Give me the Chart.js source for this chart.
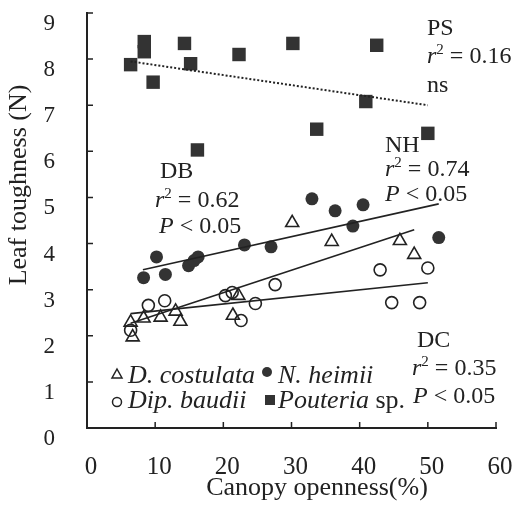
<!DOCTYPE html>
<html>
<head>
<meta charset="utf-8">
<script src="https://cdn.jsdelivr.net/npm/chart.js"></script>
<style>
    html, body { margin: 0; padding: 0; background: #fff; }
    #wrap { width: 515px; height: 505px; }
</style>
</head>
<body>
<div id="wrap"><canvas id="chart" width="515" height="505"></canvas></div>
<script>
// ---- data ----
const xTicks = [0, 10, 20, 30, 40, 50, 60];
const yTicks = [0, 1, 2, 3, 4, 5, 6, 7, 8, 9];

// D. costulata (open triangles)
const dcX = [6.4, 6.7, 8.3, 10.8, 13.0, 13.7, 21.4, 22.2, 30.1, 35.9, 45.9, 48.0];
const dcY = [2.29, 1.97, 2.38, 2.40, 2.53, 2.31, 2.44, 2.87, 4.45, 4.04, 4.06, 3.76];

// Dip. baudii (open circles)
const dbX = [6.4, 9.0, 11.4, 20.3, 21.3, 22.6, 24.7, 27.6, 43.0, 44.7, 48.8, 50.0];
const dbY = [2.12, 2.66, 2.76, 2.87, 2.94, 2.33, 2.70, 3.11, 3.43, 2.72, 2.72, 3.47];

// N. heimii (filled circles)
const nhX = [8.3, 10.2, 11.5, 14.9, 15.7, 16.3, 23.1, 27.0, 33.0, 36.4, 39.0, 40.5, 51.6];
const nhY = [3.26, 3.71, 3.33, 3.52, 3.63, 3.71, 3.97, 3.93, 4.97, 4.71, 4.38, 4.84, 4.13];

// Pouteria sp. (filled squares)
const psX = [6.4, 8.4, 8.4, 9.7, 14.3, 15.2, 16.2, 22.3, 30.2, 33.7, 40.9, 42.5, 50.0];
const psY = [7.88, 8.38, 8.16, 7.50, 8.34, 7.90, 6.03, 8.10, 8.34, 6.48, 7.08, 8.30, 6.39];

// regression lines (end points)
const psLineX = [6.4, 50.0];
const psLineY = [7.95, 7.00];
const nhLineX = [8.2, 51.6];
const nhLineY = [3.43, 4.86];
const dcLineX = [6.4, 48.0];
const dcLineY = [2.27, 4.30];
const dbLineX = [6.4, 50.0];
const dbLineY = [2.48, 3.15];

const FONT = '"Liberation Serif", "Times New Roman", serif';
const INK = '#222';

function pts(xs, ys) {
    return xs.map((x, i) => ({ x: x, y: ys[i] }));
}

// テキスト（斜体・上付き）を順に描く
function drawRich(ctx, x, y, parts, size) {
    let cx = x;
    parts.forEach(([t, st]) => {
        const italic = st === 'i';
        const sup = st === 's';
        const fs = sup ? Math.round(size * 0.62) : size;
        ctx.font = (italic ? 'italic ' : '') + fs + 'px ' + FONT;
        ctx.fillText(t, cx, sup ? y - size * 0.38 : y);
        cx += ctx.measureText(t).width;
    });
}

const notes = [
    { x: 427, y: 35,  parts: [['PS', '']] },
    { x: 427, y: 63,  parts: [['r', 'i'], ['2', 's'], [' = 0.16', '']] },
    { x: 427, y: 92,  parts: [['ns', '']] },
    { x: 385, y: 152, parts: [['NH', '']] },
    { x: 385, y: 176, parts: [['r', 'i'], ['2', 's'], [' = 0.74', '']] },
    { x: 385, y: 201, parts: [['P', 'i'], [' < 0.05', '']] },
    { x: 160, y: 178, parts: [['DB', '']] },
    { x: 155, y: 207, parts: [['r', 'i'], ['2', 's'], [' = 0.62', '']] },
    { x: 159, y: 233, parts: [['P', 'i'], [' < 0.05', '']] },
    { x: 417, y: 347, parts: [['DC', '']] },
    { x: 412, y: 375, parts: [['r', 'i'], ['2', 's'], [' = 0.35', '']] },
    { x: 413, y: 403, parts: [['P', 'i'], [' < 0.05', '']] },
];

const decorPlugin = {
    id: 'decor',
    afterDraw(chart) {
        const { ctx, chartArea: a, scales: { x, y } } = chart;
        ctx.save();

        // inward tick marks
        ctx.strokeStyle = INK;
        ctx.lineWidth = 1.5;
        ctx.beginPath();
        xTicks.slice(1).forEach(v => {
            const px = x.getPixelForValue(v);
            ctx.moveTo(px, a.bottom);
            ctx.lineTo(px, a.bottom - 6);
        });
        yTicks.slice(1).forEach(v => {
            const py = y.getPixelForValue(v);
            ctx.moveTo(a.left, py);
            ctx.lineTo(a.left + 6, py);
        });
        ctx.stroke();

        // axis titles
        ctx.fillStyle = INK;
        ctx.font = '26px ' + FONT;
        ctx.textAlign = 'center';
        ctx.textBaseline = 'alphabetic';
        ctx.fillText('Canopy openness(%)', 317, 495);
        ctx.save();
        ctx.translate(26, 185);
        ctx.rotate(-Math.PI / 2);
        ctx.fillText('Leaf toughness (N)', 0, 0);
        ctx.restore();

        // annotations
        ctx.textAlign = 'left';
        notes.forEach(n => drawRich(ctx, n.x, n.y, n.parts, 24));

        // legend
        ctx.lineWidth = 1.5;
        ctx.strokeStyle = INK;
        ctx.beginPath();
        ctx.moveTo(117, 369);
        ctx.lineTo(122, 378);
        ctx.lineTo(112, 378);
        ctx.closePath();
        ctx.stroke();
        ctx.beginPath();
        ctx.arc(117, 402, 4.5, 0, Math.PI * 2);
        ctx.stroke();
        ctx.fillStyle = '#333';
        ctx.beginPath();
        ctx.arc(267, 372, 5, 0, Math.PI * 2);
        ctx.fill();
        ctx.fillRect(265, 395, 10, 10);
        ctx.fillStyle = INK;
        drawRich(ctx, 128, 383, [['D. costulata', 'i']], 26);
        drawRich(ctx, 278, 383, [['N. heimii', 'i']], 26);
        drawRich(ctx, 128, 408, [['Dip. baudii', 'i']], 26);
        drawRich(ctx, 278, 408, [['Pouteria', 'i'], [' sp.', '']], 26);

        ctx.restore();
    }
};

const lineStyle = {
    type: 'line',
    showLine: true,
    pointRadius: 0,
    borderColor: INK,
    borderWidth: 1.6,
    fill: false,
    tension: 0
};

new Chart(document.getElementById('chart'), {
    type: 'scatter',
    data: {
        datasets: [
            { label: 'PS fit', data: pts(psLineX, psLineY), ...lineStyle, borderDash: [2, 2], borderWidth: 2 },
            { label: 'NH fit', data: pts(nhLineX, nhLineY), ...lineStyle },
            { label: 'DC fit', data: pts(dcLineX, dcLineY), ...lineStyle },
            { label: 'DB fit', data: pts(dbLineX, dbLineY), ...lineStyle },
            {
                label: 'D. costulata', data: pts(dcX, dcY),
                pointStyle: 'triangle', pointRadius: 7.5,
                borderColor: INK, borderWidth: 1.6, backgroundColor: 'rgba(0,0,0,0)'
            },
            {
                label: 'Dip. baudii', data: pts(dbX, dbY),
                pointStyle: 'circle', pointRadius: 6,
                borderColor: INK, borderWidth: 1.6, backgroundColor: 'rgba(0,0,0,0)'
            },
            {
                label: 'N. heimii', data: pts(nhX, nhY),
                pointStyle: 'circle', pointRadius: 6.5,
                borderColor: '#333', borderWidth: 0, backgroundColor: '#333'
            },
            {
                label: 'Pouteria sp.', data: pts(psX, psY),
                pointStyle: 'rect', pointRadius: 9.5,
                borderColor: '#333', borderWidth: 0, backgroundColor: '#333'
            }
        ]
    },
    options: {
        responsive: false,
        animation: false,
        layout: { padding: { left: 0, right: 19, top: 13, bottom: 0 } },
        plugins: {
            legend: { display: false },
            tooltip: { enabled: false }
        },
        scales: {
            x: {
                type: 'linear',
                min: 0,
                max: 60,
                afterFit: s => {
                    s.height = 77;
                    s.paddingLeft = 0;
                    s.paddingRight = 0;
                },
                grid: { display: false, drawTicks: false },
                border: { display: true, color: INK, width: 2 },
                ticks: {
                    stepSize: 10,
                    color: INK,
                    padding: 24,
                    labelOffset: 4,
                    maxRotation: 0,
                    font: { family: FONT, size: 25 }
                }
            },
            y: {
                type: 'linear',
                min: 0,
                max: 9,
                afterFit: s => {
                    s.width = 87;
                    s.paddingTop = 0;
                    s.paddingBottom = 0;
                },
                grid: { display: false, drawTicks: false },
                border: { display: true, color: INK, width: 2 },
                ticks: {
                    stepSize: 1,
                    color: INK,
                    padding: 32,
                    labelOffset: 11,
                    font: { family: FONT, size: 23 }
                }
            }
        }
    },
    plugins: [decorPlugin]
});
</script>
</body>
</html>
